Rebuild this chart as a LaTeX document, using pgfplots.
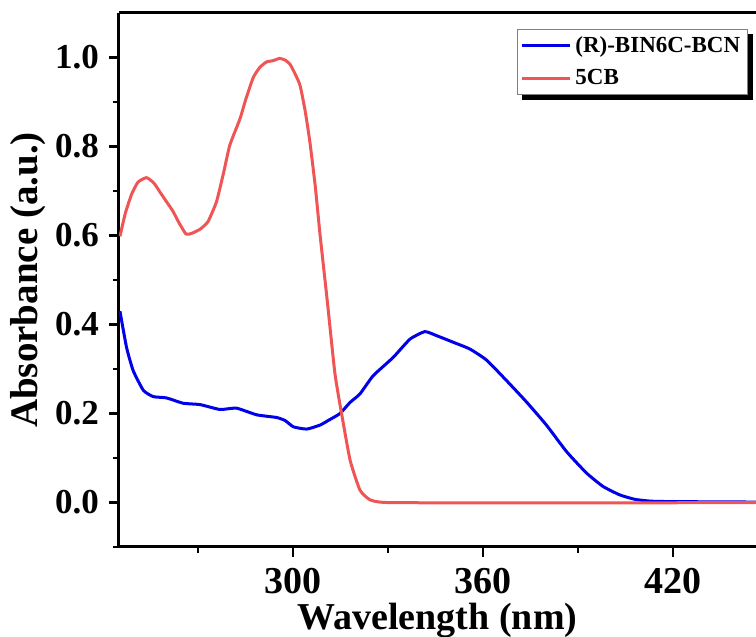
\documentclass[border=0pt]{standalone}
\usepackage{pgfplots}
\pgfplotsset{compat=1.18}
\usepackage{fontspec}
\setmainfont{Liberation Serif}
\pgfdeclarelayer{background}
\pgfsetlayers{background,main}
\definecolor{cblue}{RGB}{0,0,235}
\definecolor{cred}{RGB}{240,85,85}
\begin{document}
\begin{tikzpicture}
\begin{axis}[
  name=ax,
  scale only axis,
  width=318.5pt, height=267pt,
  xmin=245, xmax=446.2, ymin=-0.1, ymax=1.1,
  axis y line*=left,
  axis line style={line width=1.5pt},
  xtick={300,360,420}, minor xtick={270,330,390},
  ytick={0,0.2,0.4,0.6,0.8,1.0}, minor ytick={-0.1,0.1,0.3,0.5,0.7,0.9},
  tick pos=left, tick align=outside,
  major tick length=5pt, minor tick length=3pt,
  every tick/.style={black, line width=1.3pt},
  /pgf/number format/assume math mode=true,
  y tick label style={font=\fontsize{17.5}{18}\selectfont\bfseries, /pgf/number format/fixed, /pgf/number format/fixed zerofill, /pgf/number format/precision=1, xshift=-1.5pt},
  x tick label style={font=\fontsize{19}{19}\selectfont\bfseries, yshift=-2pt},
  xlabel={Wavelength (nm)}, ylabel={Absorbance (a.u.)},
  xlabel style={font=\fontsize{19}{20}\selectfont\bfseries, yshift=2pt},
  ylabel style={font=\fontsize{19.5}{20}\selectfont\bfseries, yshift=-2pt},
  legend style={name=leg, at={(rel axis cs:0.987,0.970)}, anchor=north east,
    draw=gray, line width=0.5pt, fill=white,
    font=\fontsize{11.5}{12}\selectfont\bfseries,
    inner sep=1.5pt, row sep=3pt,
    legend cell align=left},
  legend image code/.code={\draw[#1, sharp plot, line width=1.5pt] (0cm,0cm) -- (0.85cm,0cm);},
]
\addplot[cblue, line width=1.5pt, line join=round, smooth, tension=0.3] coordinates {
(245.3,0.430) (247.4,0.348) (249.5,0.296) (252.7,0.252) (255.8,0.238) (260,0.235)
(265.3,0.223) (270.6,0.220) (276.9,0.209) (282.1,0.212) (288.5,0.197) (294.8,0.191)
(297.5,0.184) (300.1,0.170) (304.3,0.165) (308.5,0.174) (311.5,0.186) (314.8,0.200)
(318,0.225) (321.1,0.244) (325.3,0.285) (331.6,0.326) (336.9,0.367) (341.6,0.384)
(345.3,0.375) (350.6,0.360) (355.8,0.345) (361.1,0.320) (367.4,0.274) (373.7,0.226)
(380,0.174) (386.4,0.114) (392.7,0.066) (397.9,0.036) (403.2,0.017) (408,0.007)
(413,0.003) (420,0.002) (446.2,0.001)
};
\addlegendentry{(R)-BIN6C-BCN}
\addplot[cred, line width=1.5pt, line join=round, smooth, tension=0.3] coordinates {
(245.3,0.598) (247,0.650) (249,0.693) (251,0.720) (253.7,0.730) (256,0.718)
(258,0.697) (260,0.676) (262,0.655) (264,0.628) (266.2,0.603) (268,0.605)
(270.6,0.614) (273.1,0.631) (275.8,0.676) (278,0.740) (280,0.803) (283.2,0.862)
(285,0.905) (287.4,0.955) (289.5,0.978) (291.6,0.990) (293.7,0.993) (295.8,0.998)
(297.5,0.994) (299,0.985) (300.5,0.965) (302.2,0.937) (303.8,0.880) (305.3,0.810)
(307,0.710) (308.5,0.602) (310.8,0.452) (313.2,0.290) (315.3,0.200) (318,0.095)
(321.1,0.028) (324.3,0.006) (329.5,0.000) (360,-0.001) (400,-0.001) (446.2,0.0)
};
\addlegendentry{5CB}
\end{axis}
\begin{pgfonlayer}{background}
\fill[black] ([xshift=2.5pt,yshift=-2.5pt]leg.south west) rectangle ([xshift=2.5pt,yshift=-2.5pt]leg.north east);
\end{pgfonlayer}
\pgfresetboundingbox
\path ([xshift=-59.5pt,yshift=-45pt]ax.south west) rectangle ([yshift=6.5pt]ax.north east);
\end{tikzpicture}
\end{document}
